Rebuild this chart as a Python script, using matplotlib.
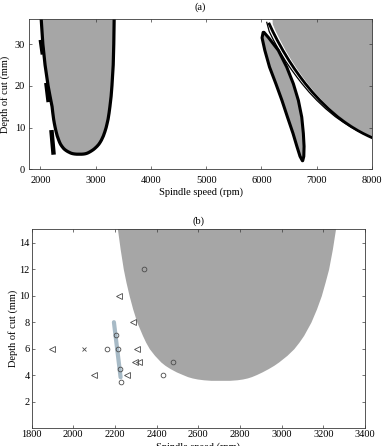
import numpy as np
import matplotlib
matplotlib.use("Agg")
import matplotlib.pyplot as plt

plt.rcParams['font.family'] = ['Liberation Serif', 'DejaVu Serif']
plt.rcParams['font.size'] = 7.5

# ---------------- data ----------------
# main stability lobe (shared by both panels): depth (mm), left / right spindle speed (rpm)
lobe_depth = [3.62, 3.66, 3.72, 3.8, 3.9, 4.05, 4.25, 4.5, 4.75, 5.0, 5.5, 6.0, 6.5, 7.0,
              8.0, 9.0, 10.0, 11.0, 12.0, 13.5, 15.0, 17.5, 20.0, 25.0, 30.0, 36.0]
lobe_left = [2660, 2625, 2595, 2570, 2548, 2525, 2495, 2465, 2440, 2420, 2390, 2365, 2347, 2332,
             2305, 2285, 2268, 2253, 2240, 2225, 2212, 2175, 2140, 2085, 2045, 2015]
lobe_right = [2750, 2785, 2812, 2835, 2855, 2878, 2905, 2935, 2962, 2985, 3025, 3058, 3083, 3105,
              3140, 3167, 3190, 3208, 3225, 3243, 3258, 3280, 3295, 3318, 3328, 3335]

# extra thick black segments beside the left lobe edge (panel a)
dash_speed = [[2008, 2045], [2108, 2150], [2200, 2240]]
dash_depth = [[31.0, 27.5], [20.7, 16.1], [9.4, 3.5]]

# lens-shaped lobe (panel a)
lens_depth = [2.05, 3.1, 5.5, 8.6, 12.5, 16.5, 20.5, 24.5, 28.5, 31.5, 32.8]
lens_left = [6740, 6697, 6640, 6570, 6470, 6370, 6260, 6145, 6060, 6010, 6030]
lens_right = [6745, 6765, 6770, 6757, 6728, 6667, 6576, 6456, 6304, 6130, 6045]

# large unstable region top right (panel a)
big_depth = [36.0, 34.8, 33.0, 31.0, 28.5, 26.0, 24.0, 22.0, 20.5, 18.5, 16.5, 14.5,
             12.6, 11.3, 10.2, 9.3, 8.6, 8.0, 7.57]
big_gray = [6185, 6188, 6245, 6320, 6420, 6532, 6630, 6736, 6820, 6943, 7078, 7229,
            7390, 7517, 7636, 7745, 7840, 7931, 8000]
big_line = [6150, 6141, 6205, 6282, 6386, 6500, 6600, 6708, 6794, 6919, 7057, 7211,
            7376, 7506, 7628, 7740, 7837, 7929, 8000]
thin_depth = [35.2, 33.0, 31.0, 28.5, 26.0, 24.0, 22.0, 20.5, 18.5, 16.5, 14.5, 12.6,
              11.3, 10.2, 9.3, 8.6]
thin_line = [6095, 6140, 6215, 6318, 6432, 6535, 6645, 6733, 6860, 7002, 7162, 7335,
             7475, 7605, 7728, 7830]

# experiments (panel b)
tri_speed = [2217, 2287, 1900, 2308, 2296, 2315, 2100, 2256]
tri_depth = [10, 8, 6, 6, 5, 5, 4, 4]
circ_speed = [2340, 2204, 2163, 2215, 2480, 2224, 2430, 2229]
circ_depth = [12, 7, 6, 6, 5, 4.5, 4, 3.5]
cross_speed = [2050]
cross_depth = [6]
blue_speed = [2195, 2227]
blue_depth = [8.0, 3.85]

a_xticks = [2000, 3000, 4000, 5000, 6000, 7000, 8000]
a_yticks = [0, 10, 20, 30]
b_xticks = [1800, 2000, 2200, 2400, 2600, 2800, 3000, 3200, 3400]
b_yticks = [2, 4, 6, 8, 10, 12, 14]

GRAY = '#a6a6a6'
SPINE = '#3a3a3a'

fig = plt.figure(figsize=(3.82, 4.46), dpi=100)

def style(ax):
    for s in ax.spines.values():
        s.set_color(SPINE)
        s.set_linewidth(0.6)
    ax.tick_params(direction='in', top=True, right=True, length=2.5, width=0.5,
                   color=SPINE, labelsize=7.5)

# ---------------- panel (a) ----------------
ax1 = fig.add_axes([0.0767, 0.6204, 0.8973, 0.337])
ax1.fill_betweenx(lobe_depth, lobe_left, lobe_right, color=GRAY, lw=0)
ld = np.array(lobe_depth)
ax1.plot(np.concatenate([np.array(lobe_left)[::-1], lobe_right]),
         np.concatenate([ld[::-1], ld]), color='black', lw=2.3, solid_capstyle='butt',
         solid_joinstyle='round')
for xs, ys in zip(dash_speed, dash_depth):
    ax1.plot(xs, ys, color='black', lw=3.2, solid_capstyle='butt')

lx = np.concatenate([lens_left, np.array(lens_right)[::-1]])
ly = np.concatenate([lens_depth, np.array(lens_depth)[::-1]])
ax1.fill(lx, ly, facecolor=GRAY, edgecolor='black', lw=2.2, joinstyle='round')

xmax_a = a_xticks[-1]
ax1.fill_betweenx(big_depth, big_gray, xmax_a, color=GRAY, lw=0)
ax1.plot(big_gray, big_depth, color='white', lw=1.0, solid_joinstyle='round')
ax1.plot(big_line[1:], big_depth[1:], color='black', lw=2.0, solid_joinstyle='round')
ax1.plot(thin_line, thin_depth, color='black', lw=0.9, solid_joinstyle='round')

ax1.set_xlim(1800, 8000)
ax1.set_ylim(0, 36)
ax1.set_xticks(a_xticks)
ax1.set_yticks(a_yticks)
style(ax1)
ax1.tick_params(axis='x', pad=4.5)
ax1.tick_params(axis='y', pad=3)
ax1.set_title('(a)', fontsize=7.5, pad=7)
ax1.set_xlabel('Spindle speed (rpm)', fontsize=7.5)
ax1.set_ylabel('Depth of cut (mm)', fontsize=7.5)
ax1.xaxis.set_label_coords(0.5, -0.12)
ax1.yaxis.set_label_coords(-0.055, 0.5)

# ---------------- panel (b) ----------------
ax2 = fig.add_axes([0.0827, 0.0395, 0.873, 0.4465])
ax2.fill_betweenx(lobe_depth, lobe_left, lobe_right, color=GRAY, lw=0)
ax2.plot(blue_speed, blue_depth, color='#a7bac6', lw=3.0, solid_capstyle='round', zorder=3)
mk = dict(linestyle='none', markerfacecolor='none', markeredgecolor='#4a4a4a',
          markeredgewidth=0.6, zorder=4)
ax2.plot(tri_speed, tri_depth, marker='<', ms=4.2, **mk)
ax2.plot(circ_speed, circ_depth, marker='o', ms=3.4, **mk)
ax2.plot(cross_speed, cross_depth, marker='x', ms=2.2, **mk)

ax2.set_xlim(1800, 3400)
ax2.set_ylim(0, 15)
ax2.set_xticks(b_xticks)
ax2.set_yticks(b_yticks)
style(ax2)
ax2.tick_params(pad=1.5)
ax2.set_title('(b)', fontsize=7.5, pad=4)
ax2.set_xlabel('Spindle speed (rpm)', fontsize=7.5)
ax2.set_ylabel('Depth of cut (mm)', fontsize=7.5)
ax2.xaxis.set_label_coords(0.5, -0.07)
ax2.yaxis.set_label_coords(-0.042, 0.5)

fig.savefig('out.png', dpi=100)
